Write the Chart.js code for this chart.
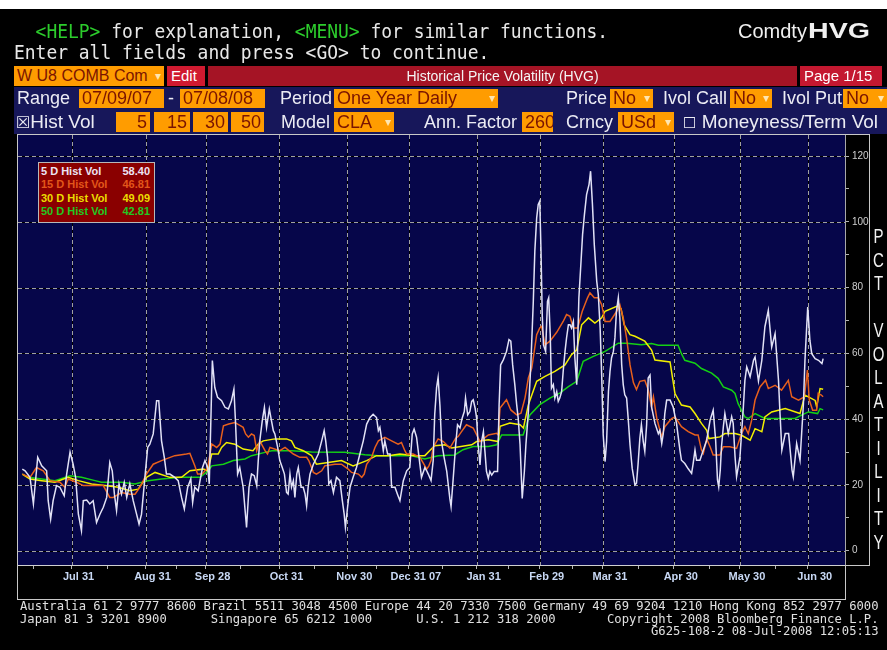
<!DOCTYPE html>
<html><head><meta charset="utf-8">
<script src="https://cdn.jsdelivr.net/npm/chart.js@4.4.1/dist/chart.umd.min.js"></script>
<style>
html,body{margin:0;padding:0;background:#000;width:887px;height:650px;overflow:hidden;}
#wrap{position:relative;width:887px;height:650px;background:#000;}
canvas{position:absolute;left:0;top:0;}
.abs{position:absolute;white-space:pre;}
.term{position:absolute;font-family:'DejaVu Sans Mono',monospace;font-size:20px;line-height:20px;color:#e8e8e8;white-space:pre;transform:scaleX(0.897);transform-origin:0 0;}
.g{color:#2ccc2c;}
.ob{position:absolute;background:#ff9c00;color:#7a1400;font-family:'Liberation Sans',Arial,sans-serif;font-size:18px;height:19px;line-height:19px;box-sizing:border-box;padding:0 3px;white-space:pre;overflow:hidden;}
.ob .ar{position:absolute;right:3px;top:0;color:#ffe6b0;font-size:12px;font-family:'DejaVu Sans',sans-serif;}
.r{text-align:right;}
.lbl{position:absolute;color:#ececf4;font-family:'Liberation Sans',Arial,sans-serif;font-size:18px;line-height:19px;white-space:pre;}
.fr{position:absolute;background:#c8c8c8;}
.leg{position:absolute;left:38px;top:162px;width:117px;height:61px;box-sizing:border-box;background:#8a0000;border:1px solid #b8b8b8;padding:2px 4px 0 2px;font-family:'Liberation Sans',Arial,sans-serif;font-weight:bold;font-size:11px;}
.leg div{display:flex;justify-content:space-between;height:13.3px;line-height:13.3px;}
.pct{position:absolute;left:870px;top:225px;width:17px;text-align:center;color:#f0f0f0;font-family:'Liberation Sans',Arial,sans-serif;font-size:20px;line-height:23.5px;white-space:pre;transform:scaleX(0.75);}
.foot{position:absolute;left:20px;top:600px;font-family:'DejaVu Sans Mono',monospace;font-size:12.2px;line-height:12.7px;color:#e0e0e0;white-space:pre;}
</style></head>
<body><div id="wrap">
<canvas id="c" width="887" height="650"></canvas>

<div class="abs" style="left:0;top:0;width:887px;height:9px;background:#fff;"></div>
<div class="term" style="left:14px;top:21px;">  <span class="g">&lt;HELP&gt;</span> for explanation, <span class="g">&lt;MENU&gt;</span> for similar functions.</div>
<div class="term" style="left:14px;top:42px;">Enter all fields and press &lt;GO&gt; to continue.</div>
<div class="abs" style="left:738px;top:21px;color:#f0f0f0;font-family:'Liberation Sans',Arial,sans-serif;font-size:20px;line-height:20px;">Comdty<span style="display:inline-block;font-weight:bold;font-size:22px;transform:scaleX(1.3);transform-origin:0 50%;margin-left:1px;">HVG</span></div>

<div class="ob" style="left:14px;top:66px;width:150px;height:20px;line-height:20px;font-size:16px;">W U8 COMB Com<span class="ar">▾</span></div>
<div class="abs" style="left:167px;top:66px;width:38px;height:20px;background:#d01a30;color:#fff;font-family:'Liberation Sans',Arial,sans-serif;font-size:15px;line-height:20px;box-sizing:border-box;padding-left:4px;">Edit</div>
<div class="abs" style="left:208px;top:66px;width:589px;height:20px;background:#a51425;color:#f4f4f4;font-family:'Liberation Sans',Arial,sans-serif;font-size:14px;line-height:20px;text-align:center;">Historical Price Volatility (HVG)</div>
<div class="abs" style="left:800px;top:66px;width:82px;height:20px;background:#c41830;color:#fff;font-family:'Liberation Sans',Arial,sans-serif;font-size:15px;line-height:20px;box-sizing:border-box;padding-left:4px;">Page 1/15</div>

<div class="abs" style="left:14px;top:87px;width:873px;height:47px;background:#17175a;"></div>
<div class="lbl" style="left:17px;top:89px;">Range</div>
<div class="ob" style="left:79px;top:89px;width:85px;">07/09/07</div>
<div class="lbl" style="left:168px;top:89px;">-</div>
<div class="ob" style="left:180px;top:89px;width:85px;">07/08/08</div>
<div class="lbl" style="left:280px;top:89px;">Period</div>
<div class="ob" style="left:334px;top:89px;width:164px;">One Year Daily<span class="ar">▾</span></div>
<div class="lbl" style="left:566px;top:89px;">Price</div>
<div class="ob" style="left:610px;top:89px;width:43px;">No<span class="ar">▾</span></div>
<div class="lbl" style="left:663px;top:89px;">Ivol Call</div>
<div class="ob" style="left:730px;top:89px;width:42px;">No<span class="ar">▾</span></div>
<div class="lbl" style="left:782px;top:89px;">Ivol Put</div>
<div class="ob" style="left:843px;top:89px;width:44px;">No<span class="ar">▾</span></div>

<div class="lbl" style="left:16px;top:112px;line-height:20px;font-size:19px;"><span style="font-family:'DejaVu Sans',sans-serif;font-size:16px;">☒</span>Hist Vol</div>
<div class="ob r" style="left:116px;top:112px;width:34px;height:20px;line-height:20px;">5</div>
<div class="ob r" style="left:154px;top:112px;width:36px;height:20px;line-height:20px;">15</div>
<div class="ob r" style="left:193px;top:112px;width:35px;height:20px;line-height:20px;">30</div>
<div class="ob r" style="left:231px;top:112px;width:33px;height:20px;line-height:20px;">50</div>
<div class="lbl" style="left:281px;top:112px;line-height:20px;">Model</div>
<div class="ob" style="left:334px;top:112px;width:60px;height:20px;line-height:20px;">CLA<span class="ar">▾</span></div>
<div class="lbl" style="left:424px;top:112px;line-height:20px;">Ann. Factor</div>
<div class="ob" style="left:522px;top:112px;width:31px;height:20px;line-height:20px;">260</div>
<div class="lbl" style="left:566px;top:112px;line-height:20px;">Crncy</div>
<div class="ob" style="left:618px;top:112px;width:56px;height:20px;line-height:20px;">USd<span class="ar">▾</span></div>
<div class="lbl" style="left:683px;top:112px;line-height:20px;font-size:19px;"><span style="font-family:'DejaVu Sans',sans-serif;font-size:15px;">☐</span> Moneyness/Term Vol</div>

<div class="fr" style="left:17px;top:134px;width:853px;height:1px;"></div>
<div class="fr" style="left:17px;top:134px;width:1px;height:466px;"></div>
<div class="fr" style="left:869px;top:134px;width:1px;height:432px;"></div>
<div class="fr" style="left:845px;top:565px;width:25px;height:1px;"></div>
<div class="fr" style="left:845px;top:565px;width:1px;height:35px;"></div>
<div class="fr" style="left:17px;top:599px;width:829px;height:1px;"></div>

<div class="leg" id="leg"></div>
<div class="pct">P
C
T

V
O
L
A
T
I
L
I
T
Y</div>

<div class="foot">Australia 61 2 9777 8600 Brazil 5511 3048 4500 Europe 44 20 7330 7500 Germany 49 69 9204 1210 Hong Kong 852 2977 6000
Japan 81 3 3201 8900      Singapore 65 6212 1000      U.S. 1 212 318 2000       Copyright 2008 Bloomberg Finance L.P.
                                                                                      G625-108-2 08-Jul-2008 12:05:13</div>
</div>

<script>
// ---- Data: [trading day since 07/09/07, volatility %] ----
const hv5 = [[0,24.8],[0.9,24.3],[2.5,22.3],[3.6,14.2],[5,28.4],[6.3,25.8],[7.9,24.3],[8.4,15.2],[9.2,9.6],[10,15.2],[11.1,19.8],[12.2,19.3],[13.6,16.7],[14.4,23.3],[15.5,30.0],[16.5,26.3],[17.3,22.3],[18.2,11.1],[19.2,6.1],[19.8,15.2],[20.9,15.4],[21.9,14.2],[23,15.2],[24.1,8.6],[25.2,11.1],[26.3,13.2],[27.4,16.2],[28.4,26.8],[29.2,24.3],[29.9,17.2],[30.6,12.2],[31.4,20.3],[32.2,17.2],[33.1,20.8],[33.9,16.2],[34.9,20.3],[36,15.2],[37.1,11.1],[37.9,8.1],[38.7,11.1],[39.8,22.3],[40.7,31.4],[41.4,32.4],[42.5,35.5],[43.6,45.6],[44.3,45.6],[45.2,33.4],[46.1,28.4],[46.8,23.3],[47.9,23.3],[49.5,22.3],[50.6,21.3],[51.7,16.2],[52.6,12.7],[53.7,19.3],[54.7,21.8],[55.3,14.7],[56,19.3],[57.1,18.2],[57.7,21.3],[58.5,25.3],[59.3,27.4],[60.2,25.3],[60.7,20.3],[61.7,57.8],[62.5,49.6],[63.4,46.6],[64.7,45.6],
[65.8,43.6],[66.9,43.1],[67.9,45.6],[68.7,49.1],[69.2,39.5],[69.9,23.3],[70.6,25.3],[71.7,19.3],[72.8,7.1],[73.6,19.3],[74.4,23.3],[75.3,22.8],[76.1,19.8],[76.6,27.4],[77.1,33.4],[77.9,39.5],[78.6,43.6],[79.3,37.5],[80.2,43.1],[80.9,39.5],[81.5,36.5],[82,35.5],[82.9,31.4],[83.6,27.4],[84.4,25.3],[85.1,23.3],[85.8,17.7],[86.3,17.2],[86.9,23.3],[87.4,19.3],[88,21.3],[88.5,16.2],[89.1,23.3],[89.6,25.3],[90.5,19.3],[91.2,19.3],[91.8,17.2],[92.3,13.7],[92.8,19.3],[93.4,23.3],[94.5,26.3],[96.1,29.4],[97.2,33.4],[98,36.5],[98.5,33.4],[99.1,28.4],[99.5,20.3],[100.2,21.3],[101,17.7],[102,22.3],[103.1,21.3],[103.9,15.2],[104.5,11.1],[104.9,7.1],[105.6,13.2],[106.4,19.3],[107.4,22.3],[108.5,25.3],[109.6,29.4],[110.7,33.4],[111.8,38.5],[112.9,40.5],[113.9,41.5],[115,40.5],[115.6,36.5],[116.1,37.5],[117.2,30.4],[117.7,33.4],[118.6,29.4],[119.4,29.4],[119.9,19.3],[121,19.3],[121.8,17.2],[122.6,15.2],[123.7,21.3],[124.8,24.3],[125.8,25.3],[126.6,35.5],[127.2,37.0],[128,34.5],[128.8,28.4],[129.6,22.3],[130.7,25.3],[131.3,24.3],[131.8,23.3],[132.7,21.3],[133.4,27.4],[133.9,41.5],[134.5,49.6],[135,52.7],
[135.6,44.0],[136.1,33.2],[137,28.1],[137.8,24.1],[138.3,20.0],[138.8,15.9],[139.2,13.4],[139.9,22.0],[140.7,32.2],[141.3,38.3],[142.1,37.3],[142.8,40.3],[143.5,42.3],[143.9,46.4],[144.6,41.3],[145.3,42.3],[145.9,45.4],[146.4,45.9],[147,43.4],[147.5,40.3],[148,32.2],[148.6,26.1],[149.1,33.2],[149.7,36.2],[150.2,30.2],[150.7,24.1],[151.3,22.0],[151.8,24.1],[152.4,23.0],[153.2,24.1],[154.3,24.1],[154.8,44.4],[155.3,56.5],[156.2,58.1],[157.2,60.6],[158,64.2],[158.6,63.7],[159.2,56.5],[159.9,50.5],[160.5,44.4],[161,40.3],[161.6,32.2],[162.3,15.9],[163,24.1],[163.5,32.2],[164.3,42.3],[165.1,56.5],[165.9,75.8],[166.4,91.1],[167,101.2],[167.5,105.3],[168,106.3],[168.4,91.1],[168.8,71.8],[169.2,62.6],[169.9,60.6],[170.5,75.8],[170.9,76.9],[171.4,65.7],[171.8,49.4],[172.4,50.5],[172.9,46.4],[173.5,48.4],[174,45.4],[174.5,46.4],[175.1,48.4],[175.6,54.5],[176.2,60.6],[176.7,64.7],[177.3,68.7],[177.8,68.7],[178.3,67.7],[178.9,69.7],[179.4,58.6],[180,50.5],[180.3,62.6],[180.7,76.9],[181.4,88.0],[181.9,96.1],[182.5,102.2],[183.2,108.3],[184,111.4],[184.5,115.4],[185.1,105.3],[185.7,93.1],[186.5,81.9],[187,77.9],[187.6,67.7],[188.1,53.5],[188.6,35.2],[189.2,27.1],[189.7,33.2],[190.3,48.4],[190.8,54.5],[191.3,58.6],[191.9,60.6],[192.4,64.7],[192.9,72.8],[193.5,76.9],[194,70.8],[194.6,56.5],[195.1,50.5],[195.6,47.4],[196.2,46.4],[196.7,40.3],[197.3,32.2],[198,25.1],[198.9,20.0],[199.4,20.5],[199.9,26.1],[200.5,34.2],[201,38.3],[201.6,33.2],[202.1,30.2],[202.7,38.3],[203.2,52.5],
[203.8,53.4],[204.3,43.7],[205.4,38.7],[206.5,35.6],[207,36.6],[207.6,32.6],[208.1,35.6],[208.6,41.7],[209.2,45.8],[210.3,45.8],[211.3,43.7],[212.4,38.7],[213.5,30.6],[214,27.5],[215.1,26.5],[216.2,24.9],[217.3,23.5],[217.8,26.5],[218.4,30.6],[218.9,27.5],[220,27.5],[221.1,30.6],[222.2,33.6],[223.3,39.7],[224.3,42.7],[225.1,33.6],[225.7,21.5],[226.1,19.4],[226.6,24.5],[227,31.6],[227.6,37.7],[228.1,41.7],[229.2,35.6],[230.3,40.7],[230.8,38.7],[231.4,28.6],[231.9,22.5],[233,28.6],[234.1,43.7],[234.6,51.8],[235.2,55.9],[236.3,52.9],[237.4,57.9],[237.9,58.9],[239,51.6],[240.1,57.9],[241.1,68.1],[242.2,73.1],[243.3,61.9],[244.4,66.0],[245.5,51.9],[246,41.7],[246.6,30.6],[247.7,35.6],[248.8,35.6],[249.9,24.5],[250.3,22.5],[251.4,32.6],[252.5,27.5],[253.6,44.7],[254.1,57.9],[255,74.1],[255.7,64.0],[256.3,59.9],[257.4,58.4],[258.5,57.9],[259.6,56.9],[260,58.40]];

const hv15 = [[0,23.3],[2.5,22.3],[4.6,25.3],[6.8,24.3],[9,21.3],[12.2,20.8],[13.8,19.3],[14.9,21.8],[17.6,20.8],[19.8,19.8],[23,19.8],[26.3,19.8],[28.4,16.2],[29.5,16.2],[32.2,17.7],[34.9,17.2],[36.6,17.2],[38.2,19.3],[40.3,23.3],[42.5,26.3],[45.2,27.4],[49.5,28.9],[53.3,29.4],[54.4,29.6],[56,25.8],[56.9,23.3],[58.4,23.3],[60.2,25.3],[61.5,32.4],[63.1,31.4],[64.2,32.4],[65.3,38.0],[67,38.5],[69,39.0],[71.7,37.5],[72.5,35.5],[73.4,34.5],[74.4,35.5],[75.3,35.0],[76.1,30.4],[77.1,33.4],[78.8,30.4],[79.6,29.4],[80.4,31.4],[83.6,30.4],[85.3,31.4],[88,29.4],[90.1,28.4],[92.3,28.4],[93,27.4],[93.9,25.3],[94.5,23.8],[95.5,23.3],[97.2,24.3],[98.2,25.8],[101.5,26.3],[103.6,26.3],[105.8,24.8],[106.9,23.8],[109.1,23.3],[110.2,22.3],[111,23.3],[111.8,26.3],[113.4,28.4],[114.5,31.4],[115.6,33.4],[117.7,34.5],[119.9,33.4],[122,32.4],[123.1,32.9],[124.2,30.4],[124.8,29.4],[126.9,29.4],[129.1,28.4],[131.3,24.8],[132,25.8],[132.7,27.4],[133.4,31.4],[135,34.0],[136.7,33.2],[138.8,31.2],[140.7,34.2],[141.5,34.7],[142.6,36.2],[144.2,38.3],[146.4,37.3],[148.6,33.2],[151.3,35.2],[154,35.7],[154.5,35.2],[155.1,43.4],[157.2,45.9],[158.6,42.8],[160.5,41.3],[161.9,41.8],[163.2,46.4],[164.3,52.5],[165.4,55.5],[167,65.7],[168,67.7],[168.6,68.2],[169.7,62.6],[171.3,63.7],[173.5,66.4],[175.6,69.7],[176.7,71.8],[177.8,71.3],[178.9,67.7],[180.3,67.7],[181.8,72.8],[183.5,76.9],[184.3,78.4],[185.7,76.9],[187,76.9],[188.1,74.8],[189.2,69.7],[190.8,69.7],[193,72.8],[194,74.8],[195.1,70.8],[196.2,64.6],[197.3,56.5],[198.4,51.1],[199.4,49.0],[200.5,51.5],[202.1,51.8],[203.2,49.0],[204.3,43.7],[204.9,46.8],[206,40.2],[207.6,34.6],[208.6,37.7],[210.8,40.2],[211.9,40.7],[214,37.7],[216.2,36.2],[218.4,35.2],[219.4,35.2],[220.5,30.6],[221.1,29.6],[222.2,34.0],[223.3,31.6],[224.3,29.1],[226.5,29.1],[227.6,31.6],[229.7,31.6],[231.9,31.1],[233.5,35.6],[234.6,37.7],[235.7,35.6],[236.8,39.7],[237.9,45.8],[239.5,49.8],[241.3,51.8],[242.2,49.3],[244.4,50.3],[246.5,48.8],[248.7,51.8],[249.8,46.8],[252,45.8],[253.9,46.8],[254.9,54.9],[255.5,45.8],[256.6,42.7],[257.9,42.7],[258.4,47.8],[259.3,47.4],[260,46.81]];

const hv30 = [[0,23.3],[2.5,21.8],[6.3,21.3],[10.6,20.8],[14.9,22.3],[18.2,21.3],[22.5,20.3],[26.8,19.8],[31.2,19.3],[34.9,18.2],[37.6,18.7],[40.3,22.3],[43.1,23.8],[47.9,22.3],[51.7,22.3],[54.4,24.3],[58.8,24.8],[60.2,24.3],[61.5,29.4],[63.6,29.4],[64.7,31.4],[66.3,32.9],[69,32.4],[71.7,30.9],[74.9,30.4],[76.6,32.4],[78.2,33.4],[82,34.0],[85.8,34.0],[87.4,33.4],[88.5,31.4],[91.2,30.4],[93.9,28.9],[95.5,26.3],[99.3,26.8],[103.6,27.4],[107.4,25.8],[111.8,27.4],[115,28.9],[118.8,28.9],[122.6,29.4],[127.4,28.9],[130.7,28.9],[132.8,30.9],[133.9,31.9],[137.2,32.2],[139.4,31.2],[145.9,32.2],[147.5,33.2],[151.3,33.7],[154.5,33.2],[155.1,37.8],[158.3,38.8],[161.6,38.3],[162.7,37.3],[164.3,44.4],[167,51.5],[169.7,53.0],[172.9,54.5],[176.2,56.5],[178.3,59.6],[180,61.1],[181.6,68.7],[183.8,70.8],[185.9,69.2],[188.1,70.8],[189.2,72.8],[193,74.3],[194.4,73.6],[195.4,68.7],[197.3,65.7],[198.9,65.2],[202.1,63.7],[204.3,61.0],[205.4,58.0],[210.3,57.4],[211.9,47.8],[214,44.3],[216.8,43.7],[218.4,41.7],[220.5,38.7],[222.2,36.6],[222.9,34.1],[226.5,34.6],[228.1,35.6],[231.4,35.6],[233.5,35.1],[236.3,33.6],[237.9,37.1],[240.1,36.2],[241.1,40.7],[243.3,42.2],[247.7,43.2],[252.5,41.7],[254.1,47.3],[257.4,45.7],[257.9,43.7],[259,49.3],[260,49.09]];

const hv50 = [[0,23.3],[1.9,22.3],[6.3,21.8],[10.6,21.3],[15.5,22.8],[19.2,22.3],[23.6,21.3],[25.7,20.8],[32.2,20.8],[36.6,20.3],[40.9,21.3],[45.2,21.8],[51.7,22.3],[57.7,22.3],[60.4,24.3],[61.5,25.8],[65.3,26.3],[68.5,27.4],[72.3,27.9],[74.4,28.9],[78.8,29.9],[81,30.4],[87.4,30.4],[93.9,30.0],[104.7,29.9],[111.2,29.2],[115.6,28.9],[126.4,28.9],[130.7,27.9],[135,28.9],[140.4,29.1],[143.1,30.7],[146.4,31.7],[151.3,31.7],[154,32.2],[155.6,35.2],[162.6,35.2],[164.8,41.3],[168,44.4],[171.3,46.4],[174.5,47.9],[177.3,49.9],[180,51.5],[182.1,57.6],[185.4,59.1],[189.2,60.6],[193.5,63.1],[196.2,63.1],[201,62.6],[204.3,63.0],[206.5,62.5],[212.9,62.5],[214,59.9],[215.1,57.9],[218.4,57.0],[220.5,55.4],[223.8,54.0],[225.9,52.4],[227.6,49.8],[230.3,48.8],[231.4,47.8],[232.4,44.7],[234.6,40.7],[235.7,40.2],[237.9,41.7],[241.1,40.2],[245.5,40.2],[250.9,40.2],[253,41.2],[255.2,42.2],[258.2,41.7],[259,43.2],[260,42.81]];

const seriesNames = ['5 D Hist Vol', '15 D Hist Vol', '30 D Hist Vol', '50 D Hist Vol'];
const seriesColors = ['#e2e2f6', '#e8601c', '#f2f000', '#14d014'];
const legendColors = ['#ece4f4', '#e2561a', '#ecdc00', '#22c822'];

// x axis: month-end tick positions (trading days) and labels
const monthTickDays = [16, 40, 59.5, 83.5, 105.5, 125.5, 147.5, 168, 188.5, 211.5, 233, 255];
const monthTickLabels = ['Jul 31', 'Aug 31', 'Sep 28', 'Oct 31', 'Nov 30', 'Dec 31 07', 'Jan 31', 'Feb 29', 'Mar 31', 'Apr 30', 'May 30', 'Jun 30'];
const midMonthDays = [3.5, 27.5, 50, 71, 95, 115, 136.5, 158, 178.5, 200, 223, 244.5];
// y axis ticks
const yTicks = [0, 10, 20, 30, 40, 50, 60, 70, 80, 90, 100, 110, 120];
const yLabelStep = 20;

const allSeries = [hv5, hv15, hv30, hv50];

// legend box built from the data
const leg = document.getElementById('leg');
allSeries.forEach((s, i) => {
  const row = document.createElement('div');
  row.style.color = legendColors[i];
  const a = document.createElement('span'); a.textContent = seriesNames[i];
  const b = document.createElement('span'); b.textContent = s[s.length - 1][1].toFixed(2);
  row.appendChild(a); row.appendChild(b); leg.appendChild(row);
});

// navy plot background + dashed grid (grey dashes over black), positioned by the scales
const plotGrid = {
  id: 'plotGrid',
  beforeDraw(chart) {
    const { ctx, chartArea: a } = chart;
    ctx.save();
    ctx.fillStyle = '#06064a';
    ctx.fillRect(a.left, a.top, a.right - a.left, a.bottom - a.top);
    ctx.restore();
  },
  beforeDatasetsDraw(chart) {
    const { ctx, chartArea: a, scales } = chart;
    const L = Math.round(a.left), R = Math.round(a.right), T = Math.round(a.top), B = Math.round(a.bottom);
    const xs = monthTickDays.map(d => Math.round(scales.x.getPixelForValue(d)));
    const ys = yTicks.filter(v => v % yLabelStep === 0).map(v => Math.round(scales.y.getPixelForValue(v)));
    ctx.save();
    xs.forEach(x => {
      ctx.fillStyle = '#000000'; ctx.fillRect(x, T, 1, B - T);
      ctx.fillStyle = '#a0a0a0';
      for (let y = T; y < B; y += 7) ctx.fillRect(x, y, 1, Math.min(4, B - y));
    });
    ys.forEach(y => {
      ctx.fillStyle = '#000000'; ctx.fillRect(L, y, R - L, 1);
      ctx.fillStyle = '#a0a0a0';
      for (let x = L; x < R; x += 7) ctx.fillRect(x, y, Math.min(4, R - x), 1);
    });
    ctx.restore();
  }
};

new Chart(document.getElementById('c'), {
  type: 'line',
  data: {
    datasets: allSeries.map((s, i) => ({
      label: seriesNames[i],
      data: s.map(p => ({ x: p[0], y: p[1] })),
      borderColor: seriesColors[i],
      borderWidth: 1.5,
      pointRadius: 0,
      tension: 0,
      fill: false
    }))
  },
  options: {
    responsive: false,
    animation: false,
    devicePixelRatio: 1,
    layout: { padding: { left: 18, top: 135, right: 17, bottom: 51 } },
    plugins: { legend: { display: false }, tooltip: { enabled: false } },
    scales: {
      x: {
        type: 'linear', position: 'bottom', min: -1.4, max: 267.1,
        afterBuildTicks: s => { s.ticks = monthTickDays.concat(midMonthDays).sort((a, b) => a - b).map(v => ({ value: v })); },
        afterFit: s => { s.height = 34; },
        grid: { drawOnChartArea: false, tickColor: '#b4b4b4', tickLength: 4, lineWidth: 1 },
        border: { display: true, color: '#d0d0d0', width: 1 },
        ticks: {
          autoSkip: false, maxRotation: 0, minRotation: 0, padding: 1, labelOffset: 7,
          color: '#c8d8f4', font: { family: "'Liberation Sans', Arial, sans-serif", size: 11, weight: 'bold' },
          callback: v => { const k = monthTickDays.indexOf(v); return k >= 0 ? monthTickLabels[k] : ''; }
        }
      },
      y: {
        type: 'linear', position: 'right', min: -4.35, max: 126.4,
        afterBuildTicks: s => { s.ticks = yTicks.map(v => ({ value: v })); },
        afterFit: s => { s.width = 25; },
        grid: { drawOnChartArea: false, tickColor: '#b4b4b4', tickLength: 4, lineWidth: 1 },
        border: { display: true, color: '#a8a8a8', width: 1 },
        ticks: {
          autoSkip: false, padding: 3,
          color: '#cfcfcf', font: { family: "'Liberation Sans', Arial, sans-serif", size: 10 },
          callback: v => (v % yLabelStep === 0 ? String(v) : '')
        }
      }
    }
  },
  plugins: [plotGrid]
});
</script>
</body></html>
